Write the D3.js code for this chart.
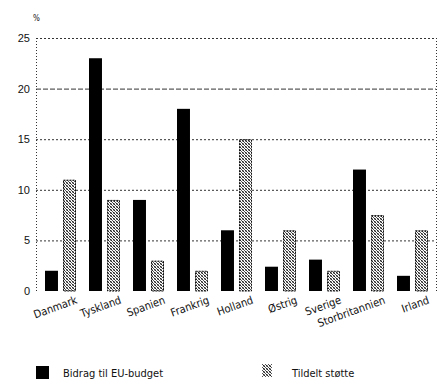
<!DOCTYPE html>
<html>
<head>
<meta charset="utf-8">
<script src="https://cdn.jsdelivr.net/npm/d3@7"></script>
<style>
  html, body { margin: 0; padding: 0; background: #fff; }
  svg { display: block; }
  text { font-family: "Liberation Sans Narrow", "DejaVu Sans Condensed", sans-serif; fill: #111; }
</style>
</head>
<body>
<svg id="chart" width="444" height="391"></svg>
<script>
// Member states and their two series (percent)
const categories = ["Danmark", "Tyskland", "Spanien", "Frankrig", "Holland", "Østrig", "Sverige", "Storbritannien", "Irland"];
const bidrag = [2, 23, 9, 18, 6, 2.4, 3.1, 12, 1.5];
const stotte = [11, 9, 3, 2, 15, 6, 2, 7.5, 6];
const seriesNames = ["Bidrag til EU-budget", "Tildelt støtte"];
const yTicks = [0, 5, 10, 15, 20, 25];

const svg = d3.select("#chart");

const x0 = d3.scaleBand().domain(categories).range([40, 436]).padding(0);
const x1 = d3.scaleBand().domain([0, 1]).range([5, 36]).paddingInner(0.28).paddingOuter(0);
const y = d3.scaleLinear().domain([0, 25]).range([291, 38]);

// Stipple fill for the second series
const defs = svg.append("defs");
const pat = defs.append("pattern").attr("id", "stipple")
  .attr("patternUnits", "userSpaceOnUse").attr("width", 3).attr("height", 3);
pat.append("rect").attr("width", 3).attr("height", 3).attr("fill", "#fff");
[[0, 0, "#222"], [1, 1, "#555"], [2, 2, "#222"], [2, 0, "#999"], [0, 2, "#999"]].forEach(([px, py, c]) => {
  pat.append("rect").attr("x", px).attr("y", py).attr("width", 1).attr("height", 1).attr("fill", c);
});

// Gridlines
const grid = svg.append("g");
grid.selectAll("line").data(yTicks.filter(d => d > 0)).join("line")
  .attr("x1", 36).attr("x2", 436)
  .attr("y1", d => y(d) + 0.5).attr("y2", d => y(d) + 0.5)
  .attr("stroke", "#333").attr("stroke-width", 1)
  .attr("stroke-dasharray", d => d === 20 ? "5,2" : "2,2");

// Frame: left axis and right edge (dotted)
svg.append("line").attr("x1", 36.5).attr("x2", 36.5).attr("y1", y(25)).attr("y2", y(0))
  .attr("stroke", "#333").attr("stroke-dasharray", "1,2");
svg.append("line").attr("x1", 436.5).attr("x2", 436.5).attr("y1", y(25)).attr("y2", y(0))
  .attr("stroke", "#333").attr("stroke-dasharray", "1,2");

// Y axis labels
const yAxis = d3.axisLeft(y).tickValues(yTicks).tickSize(0).tickPadding(6);
const ga = svg.append("g").attr("transform", "translate(36,0)").call(yAxis);
ga.select(".domain").remove();
ga.selectAll("text").attr("font-size", 11).style("font-family", "\"Liberation Sans Narrow\", sans-serif").attr("fill", "#111");

svg.append("text").attr("x", 33).attr("y", 21).attr("font-size", 8).text("%");

// Bars
const groups = svg.append("g").selectAll("g").data(categories).join("g")
  .attr("transform", d => `translate(${x0(d)},0)`);

groups.append("rect")
  .attr("x", x1(0)).attr("width", x1.bandwidth())
  .attr("y", (d, i) => y(bidrag[i])).attr("height", (d, i) => y(0) - y(bidrag[i]))
  .attr("fill", "#000");

groups.append("rect")
  .attr("x", x1(1) + 0.5).attr("width", x1.bandwidth() - 1)
  .attr("y", (d, i) => y(stotte[i]) + 0.5).attr("height", (d, i) => y(0) - y(stotte[i]) - 0.5)
  .attr("fill", "url(#stipple)").attr("stroke", "#111").attr("stroke-width", 1)
  .attr("stroke-dasharray", "2,1");

// Category labels, slanted
groups.append("text")
  .attr("transform", d => `translate(${x0.bandwidth() / 2 + 16},303) rotate(-20)`)
  .attr("text-anchor", "end")
  .attr("font-size", 11)
  .text(d => d);

// Legend
const legend = svg.append("g");
legend.append("rect").attr("x", 36).attr("y", 366).attr("width", 13).attr("height", 13).attr("fill", "#000");
legend.append("text").attr("x", 63).attr("y", 377).attr("font-size", 11).text(seriesNames[0]);
legend.append("rect").attr("x", 262).attr("y", 364).attr("width", 10).attr("height", 13)
  .attr("fill", "url(#stipple)");
legend.append("text").attr("x", 292).attr("y", 377).attr("font-size", 11).text(seriesNames[1]);
</script>
</body>
</html>
